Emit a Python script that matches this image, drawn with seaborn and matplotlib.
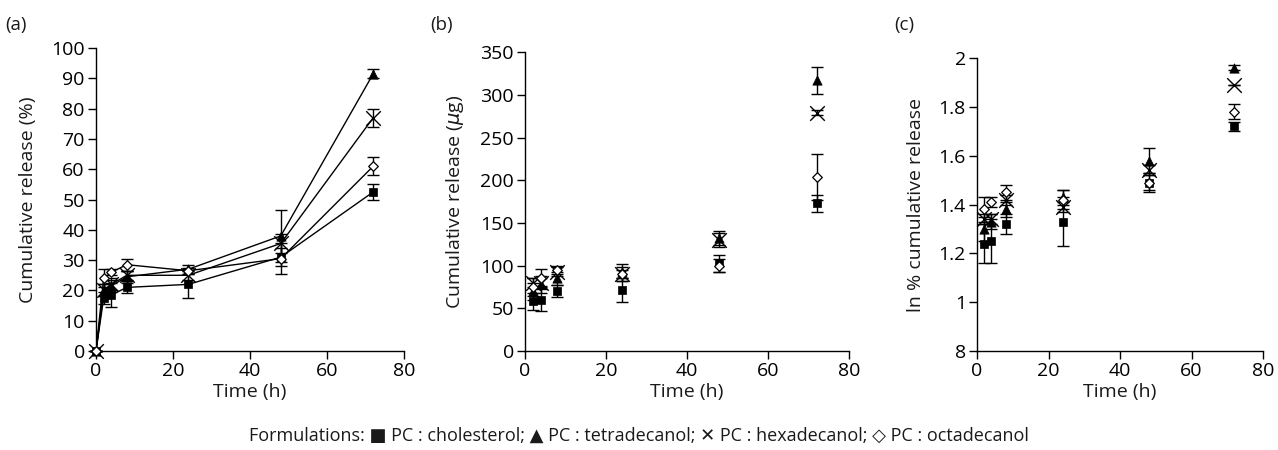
import numpy as np
import pandas as pd
import matplotlib
matplotlib.use("Agg")
import matplotlib.pyplot as plt
import seaborn as sns

# ---------------- data ----------------
formulations = ["PC : cholesterol", "PC : tetradecanol", "PC : hexadecanol", "PC : octadecanol"]
time_a = [0, 2, 4, 8, 24, 48, 72]
time_bc = [2, 4, 8, 24, 48, 72]

# (a) cumulative release (%)
a_chol = [0, 17.5, 18.5, 21, 22, 31, 52.5]
a_chol_err = [0, 2, 4, 2, 4.5, 3, 2.5]
a_tetra = [0, 20, 21.5, 24.5, 27, 38, 91.5]
a_tetra_err = [0, 2, 2, 2, 1.5, 8.5, 1.5]
a_hexa = [0, 20, 22, 25, 25, 35.5, 77]
a_hexa_err = [0, 2, 2, 1.5, 1.5, 3, 3]
a_octa = [0, 24, 26, 28.5, 26.5, 30.5, 61]
a_octa_err = [0, 3, 1, 2, 1, 5, 3]

# (b) cumulative release (ug)
b_chol = [58, 60, 70, 71, 103, 173]
b_chol_err = [10, 13, 7, 14, 10, 10]
b_tetra = [70, 78, 85, 92, 132, 317]
b_tetra_err = [10, 10, 8, 10, 8, 16]
b_hexa = [80, 80, 93, 90, 130, 279]
b_hexa_err = [5, 5, 5, 5, 8, 3]
b_octa = [75, 86, 95, 90, 100, 204]
b_octa_err = [10, 10, 5, 8, 8, 27]

# (c) ln % cumulative release
c_chol = [1.24, 1.25, 1.32, 1.33, 1.49, 1.72]
c_chol_err = [0.08, 0.09, 0.04, 0.10, 0.04, 0.02]
c_tetra = [1.30, 1.33, 1.38, 1.43, 1.58, 1.96]
c_tetra_err = [0.05, 0.03, 0.03, 0.03, 0.05, 0.01]
c_hexa = [1.34, 1.34, 1.42, 1.39, 1.54, 1.89]
c_hexa_err = [0.02, 0.02, 0.02, 0.02, 0.02, 0.0]
c_octa = [1.38, 1.41, 1.45, 1.42, 1.49, 1.78]
c_octa_err = [0.05, 0.02, 0.03, 0.04, 0.03, 0.03]

a_ticks_y = list(range(0, 101, 10))
b_ticks_y = list(range(0, 351, 50))
c_ticks_y = [0.8, 1.0, 1.2, 1.4, 1.6, 1.8, 2.0]
c_tick_labels = ["8", "1", "1.2", "1.4", "1.6", "1.8", "2"]
x_ticks = [0, 20, 40, 60, 80]

# ---------------- style ----------------
sns.set_style("ticks")
plt.rcParams["font.family"] = ["Open Sans", "DejaVu Sans"]
plt.rcParams["font.size"] = 13
plt.rcParams["axes.linewidth"] = 1.0
plt.rcParams["xtick.major.size"] = 5.5
plt.rcParams["ytick.major.size"] = 5.5
plt.rcParams["xtick.major.pad"] = 2.5
plt.rcParams["ytick.major.pad"] = 2.5
plt.rcParams["xtick.color"] = "black"
plt.rcParams["ytick.color"] = "black"
plt.rcParams["axes.edgecolor"] = "black"
plt.rcParams["text.color"] = "#1a1a1a"
plt.rcParams["axes.labelcolor"] = "#1a1a1a"

marker_styles = {
    "PC : cholesterol": dict(marker="s", s=40, color="black", edgecolor="black", linewidth=0.5),
    "PC : tetradecanol": dict(marker="^", s=45, color="black", edgecolor="black", linewidth=0.5),
    "PC : hexadecanol": dict(marker="x", s=110, color="black", linewidth=1.0),
    "PC : octadecanol": dict(marker="D", s=24, facecolor="white", edgecolor="black", linewidth=0.9),
}

fig = plt.figure(figsize=(12.78, 4.5), dpi=100)
ax_a = fig.add_axes([0.0751, 0.220, 0.241, 0.673])
ax_b = fig.add_axes([0.4108, 0.220, 0.2535, 0.664])
ax_c = fig.add_axes([0.7645, 0.220, 0.2238, 0.651])


def draw(ax, t, series, errs, with_lines):
    for name, vals, err in zip(formulations, series, errs):
        ax.errorbar(t, vals, yerr=err, fmt="none", ecolor="black", elinewidth=1.0,
                    capsize=4, capthick=1.0, zorder=2, clip_on=False)
        if with_lines:
            sns.lineplot(x=t, y=vals, ax=ax, color="black", linewidth=1.0,
                         errorbar=None, zorder=2, legend=False)
        sns.scatterplot(x=t, y=vals, ax=ax, legend=False, zorder=3, clip_on=False,
                        **marker_styles[name])


draw(ax_a, time_a, [a_chol, a_tetra, a_hexa, a_octa],
     [a_chol_err, a_tetra_err, a_hexa_err, a_octa_err], True)
draw(ax_b, time_bc, [b_chol, b_tetra, b_hexa, b_octa],
     [b_chol_err, b_tetra_err, b_hexa_err, b_octa_err], False)
draw(ax_c, time_bc, [c_chol, c_tetra, c_hexa, c_octa],
     [c_chol_err, c_tetra_err, c_hexa_err, c_octa_err], False)

lab_fs = 14
tick_fs = 14

ax_a.set_ylim(0, 100)
ax_a.set_yticks(a_ticks_y)
ax_a.set_ylabel("Cumulative release (%)", fontsize=lab_fs, labelpad=10)
ax_b.set_ylim(0, 350)
ax_b.set_yticks(b_ticks_y)
ax_b.set_ylabel("Cumulative release ($\\mu$g)", fontsize=lab_fs, labelpad=10)
ax_c.set_ylim(0.8, 2.0)
ax_c.set_yticks(c_ticks_y)
ax_c.set_yticklabels(c_tick_labels)
ax_c.set_ylabel("ln % cumulative release", fontsize=lab_fs, labelpad=10)

for ax in (ax_a, ax_b, ax_c):
    ax.set_xlim(0, 80)
    ax.set_xticks(x_ticks)
    ax.set_xlabel("Time (h)", fontsize=lab_fs, labelpad=2)
    ax.tick_params(labelsize=tick_fs, width=1.0)
    sns.despine(ax=ax)

fig.text(0.004, 0.945, "(a)", fontsize=13.5, va="center", ha="left")
fig.text(0.337, 0.945, "(b)", fontsize=13.5, va="center", ha="left")
fig.text(0.700, 0.945, "(c)", fontsize=13.5, va="center", ha="left")

legend_text = ("Formulations: \u25A0 " + formulations[0] + "; \u25B2 " + formulations[1]
               + "; \u2715 " + formulations[2] + "; \u25C7 " + formulations[3])
fig.text(0.5, 0.032, legend_text, fontsize=13, ha="center", va="center",
         family=["Open Sans", "DejaVu Sans"])

fig.savefig("out.png", dpi=100)
